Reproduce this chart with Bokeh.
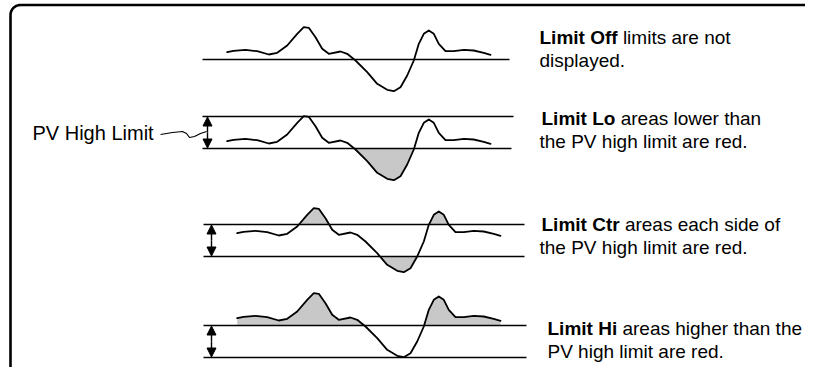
import numpy as np
from bokeh.plotting import figure
from bokeh.models import Range1d, Arrow, NormalHead
from bokeh.embed import file_html
from bokeh.resources import INLINE
from bokeh.core.properties import value

# ---- data: one process-value trace (x along time, v = height above the reference level)
wave_x = [226.7, 233, 245, 256.7, 268.3, 276.7, 286.7, 296.7, 303.3, 308.3, 315, 321.7,
          328.3, 340, 346.7, 355, 366.7, 376.7, 386.7, 393.3, 400, 406.7, 413.3, 418.3,
          423.3, 428.3, 433.3, 438.3, 445, 453.3, 463.3, 473.3, 483.3, 490]
wave_v = [7.3, 8.7, 9.7, 8.3, 5.0, 6.7, 14.0, 25.7, 32.3, 31.7, 22.3, 10.7,
          5.7, 8.0, 5.7, -1.0, -12.7, -24.3, -30.3, -31.7, -27.7, -16.0, -1.0, 15.7,
          25.7, 29.0, 25.7, 15.7, 8.3, 8.3, 9.7, 9.0, 6.7, 4.7]

# ---- panels
panel_modes = ["off", "lo", "ctr", "hi"]
panel_bold = ["Limit Off", "Limit Lo", "Limit Ctr", "Limit Hi"]
panel_text1 = ["limits are not", "areas lower than", "areas each side of", "areas higher than the"]
panel_text2 = ["displayed.", "the PV high limit are red.", "the PV high limit are red.", "PV high limit are red."]
limit_band = 32
band_low = [0, 0, -16, -32]          # lower limit line, in v units
side_label = "PV High Limit"

# ---- layout (screen pixels)
W, H = 805, 367
panel_base = [59, 148, 240, 325]
panel_shift = [0, 0, 10, 10]
line_x0 = [202, 202, 203, 203]
line_x1 = [509, 511, 524, 526]
arrow_x = [None, 207, 211, 211]
text_x1 = [539, 541, 541, 547]
text_x2 = [539, 539, 539, 547]
text_y1 = [37, 118, 224, 328]
line_gap = 23
FS = 19
FONT = value("Liberation Sans")
FILL = "#c8c8c8"

p = figure(width=W, height=H, output_backend="svg", toolbar_location=None,
           x_range=Range1d(0, W), y_range=Range1d(H, 0),
           x_axis_location=None, y_axis_location=None, min_border=0)
p.grid.visible = False
p.outline_line_color = None
p.background_fill_color = "white"
p.border_fill_color = "white"


def with_crossings(xs, ys, level):
    ox, oy = [xs[0]], [ys[0]]
    for i in range(1, len(xs)):
        y0, y1 = ys[i - 1], ys[i]
        if (y0 - level) * (y1 - level) < 0:
            t = (level - y0) / (y1 - y0)
            ox.append(xs[i - 1] + t * (xs[i] - xs[i - 1]))
            oy.append(level)
        ox.append(xs[i])
        oy.append(ys[i])
    return np.array(ox), np.array(oy)


# outer frame (top and left edges with rounded corner)
ang = np.linspace(np.pi, 1.5 * np.pi, 12)
r = 10
cx, cy = 10 + r, 4.5 + r
fx = [10] + list(cx + r * np.cos(ang)) + [W + 50]
fy = [H + 50] + list(cy + r * np.sin(ang)) + [4.5]
p.line(fx, fy, line_color="black", line_width=2.6)

wx = np.array(wave_x, dtype=float)
wv = np.array(wave_v, dtype=float)

for k, mode in enumerate(panel_modes):
    base = panel_base[k]
    xs = wx + panel_shift[k]
    ys = base - wv
    lo_y = base - band_low[k]
    hi_y = base - (band_low[k] + limit_band)

    # fills
    if mode in ("lo", "ctr"):
        cx_, cy_ = with_crossings(xs, ys, lo_y)
        p.varea(x=cx_, y1=np.maximum(cy_, lo_y), y2=lo_y, fill_color=FILL)
    if mode in ("hi", "ctr"):
        cx_, cy_ = with_crossings(xs, ys, hi_y)
        p.varea(x=cx_, y1=np.minimum(cy_, hi_y), y2=hi_y, fill_color=FILL)

    # limit lines
    p.line([line_x0[k], line_x1[k]], [lo_y, lo_y], line_color="black", line_width=1.3)
    if mode != "off":
        p.line([line_x0[k], line_x1[k] + (2 if mode == "lo" else 0)], [hi_y, hi_y],
               line_color="black", line_width=1.3)
        ax = arrow_x[k]
        p.add_layout(Arrow(x_start=ax, y_start=(lo_y + hi_y) / 2, x_end=ax, y_end=hi_y + 0.5,
                           end=NormalHead(size=9, line_color="black", fill_color="black", line_width=1),
                           line_width=1.4, line_color="black"))
        p.add_layout(Arrow(x_start=ax, y_start=(lo_y + hi_y) / 2, x_end=ax, y_end=lo_y - 0.5,
                           end=NormalHead(size=9, line_color="black", fill_color="black", line_width=1),
                           line_width=1.4, line_color="black"))

    # wave
    p.line(xs, ys, line_color="black", line_width=1.8, line_join="round", line_cap="round")

    # description text
    bold_w = {"Limit Off": 4.111, "Limit Lo": 3.889, "Limit Ctr": 4.111, "Limit Hi": 3.667}[panel_bold[k]]
    p.text(x=[text_x1[k]], y=[text_y1[k]], text=[panel_bold[k]], text_font=FONT,
           text_font_size=f"{FS}px", text_font_style="bold", text_baseline="middle",
           text_color="black")
    p.text(x=[text_x1[k] + (bold_w + 0.278) * FS], y=[text_y1[k]], text=[panel_text1[k]],
           text_font=FONT, text_font_size=f"{FS}px", text_baseline="middle", text_color="black")
    p.text(x=[text_x2[k]], y=[text_y1[k] + line_gap], text=[panel_text2[k]],
           text_font=FONT, text_font_size=f"{FS}px", text_baseline="middle", text_color="black")

# side label and its leader
p.text(x=[32], y=[132], text=[side_label], text_font=FONT, text_font_size="20px",
       text_baseline="middle", text_color="black")
p.line([160, 172, 182, 186, 189, 194, 200, 206], [134, 132, 131, 133, 137, 136, 133, 131],
       line_color="black", line_width=1.2, line_join="round")

open("out.html", "w").write(file_html(p, INLINE))
